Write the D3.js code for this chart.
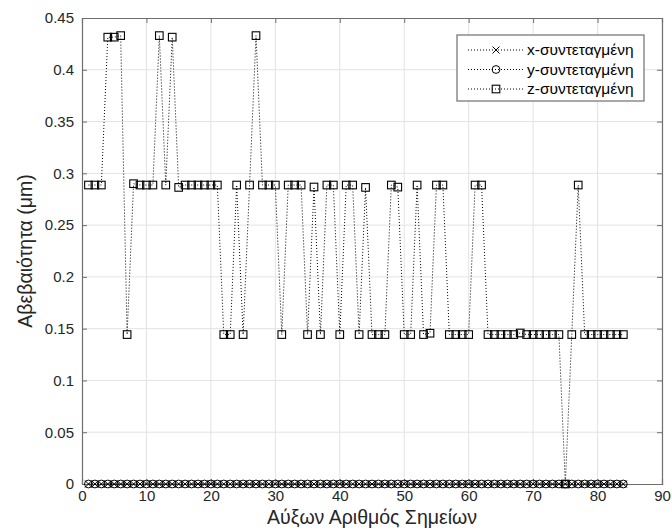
<!DOCTYPE html>
<html>
<head>
<meta charset="utf-8">
<script src="https://cdn.jsdelivr.net/npm/d3@7"></script>
<style>
    body { margin: 0; background: #fff; }
    text { font-family: "Liberation Sans", Arial, sans-serif; }
</style>
</head>
<body>
<div id="chart"></div>
<script>
// point numbers 1..84
let pointNo = [1, 2, 3, 4, 5, 6, 7, 8, 9, 10, 11, 12, 13, 14, 15, 16, 17, 18, 19, 20,
    21, 22, 23, 24, 25, 26, 27, 28, 29, 30, 31, 32, 33, 34, 35, 36, 37, 38, 39, 40,
    41, 42, 43, 44, 45, 46, 47, 48, 49, 50, 51, 52, 53, 54, 55, 56, 57, 58, 59, 60,
    61, 62, 63, 64, 65, 66, 67, 68, 69, 70, 71, 72, 73, 74, 75, 76, 77, 78, 79, 80,
    81, 82, 83, 84];

// uncertainty per coordinate (um)
let xUnc = [0, 0, 0, 0, 0, 0, 0, 0, 0, 0, 0, 0, 0, 0, 0, 0, 0, 0, 0, 0,
    0, 0, 0, 0, 0, 0, 0, 0, 0, 0, 0, 0, 0, 0, 0, 0, 0, 0, 0, 0,
    0, 0, 0, 0, 0, 0, 0, 0, 0, 0, 0, 0, 0, 0, 0, 0, 0, 0, 0, 0,
    0, 0, 0, 0, 0, 0, 0, 0, 0, 0, 0, 0, 0, 0, 0, 0, 0, 0, 0, 0,
    0, 0, 0, 0];
let yUnc = [0, 0, 0, 0, 0, 0, 0, 0, 0, 0, 0, 0, 0, 0, 0, 0, 0, 0, 0, 0,
    0, 0, 0, 0, 0, 0, 0, 0, 0, 0, 0, 0, 0, 0, 0, 0, 0, 0, 0, 0,
    0, 0, 0, 0, 0, 0, 0, 0, 0, 0, 0, 0, 0, 0, 0, 0, 0, 0, 0, 0,
    0, 0, 0, 0, 0, 0, 0, 0, 0, 0, 0, 0, 0, 0, 0, 0, 0, 0, 0, 0,
    0, 0, 0, 0];
let zUnc = [0.2887, 0.2887, 0.2887, 0.4315, 0.4315, 0.4330, 0.1443, 0.2900, 0.2887, 0.2887,
    0.2887, 0.4330, 0.2887, 0.4315, 0.2864, 0.2887, 0.2887, 0.2887, 0.2887, 0.2887,
    0.2887, 0.1443, 0.1443, 0.2887, 0.1443, 0.2887, 0.4330, 0.2887, 0.2887, 0.2887,
    0.1443, 0.2887, 0.2887, 0.2887, 0.1443, 0.2868, 0.1443, 0.2887, 0.2887, 0.1443,
    0.2887, 0.2887, 0.1443, 0.2864, 0.1443, 0.1443, 0.1443, 0.2887, 0.2867, 0.1443,
    0.1443, 0.2887, 0.1443, 0.1456, 0.2887, 0.2887, 0.1443, 0.1443, 0.1443, 0.1443,
    0.2887, 0.2887, 0.1443, 0.1443, 0.1443, 0.1443, 0.1443, 0.1458, 0.1443, 0.1443,
    0.1443, 0.1443, 0.1443, 0.1443, 0, 0.1443, 0.2887, 0.1443, 0.1443, 0.1443,
    0.1443, 0.1443, 0.1443, 0.1443];

let seriesNames = ["x-συντεταγμένη", "y-συντεταγμένη", "z-συντεταγμένη"];
let xTicks = [0, 10, 20, 30, 40, 50, 60, 70, 80, 90];
let yTicks = [0, 0.05, 0.1, 0.15, 0.2, 0.25, 0.3, 0.35, 0.4, 0.45];

let W = 672, H = 531;
let margin = { top: 18, right: 10, bottom: 47, left: 82 };
let width = W - margin.left - margin.right;
let height = H - margin.top - margin.bottom;

let svg = d3.select("#chart").append("svg")
    .attr("width", W)
    .attr("height", H);

let g = svg.append("g")
    .attr("transform", `translate(${margin.left}, ${margin.top})`);

let xscale = d3.scaleLinear().domain([0, 90]).range([0, width]);
let yscale = d3.scaleLinear().domain([0, 0.45]).range([height, 0]);

let axisCol = "#6e6e6e";

// grid
g.selectAll(".gx").data(xTicks.slice(1, -1)).join("line")
    .attr("x1", d => xscale(d)).attr("x2", d => xscale(d))
    .attr("y1", 0).attr("y2", height)
    .attr("stroke", "#e3e3e3").attr("stroke-width", 1);
g.selectAll(".gy").data(yTicks.slice(1, -1)).join("line")
    .attr("y1", d => yscale(d)).attr("y2", d => yscale(d))
    .attr("x1", 0).attr("x2", width)
    .attr("stroke", "#e3e3e3").attr("stroke-width", 1);

// axes (ticks inside, box on)
let xAxis = d3.axisBottom(xscale).tickValues(xTicks).tickSize(-5).tickPadding(6).tickFormat(d3.format("d"));
let yAxis = d3.axisLeft(yscale).tickValues(yTicks).tickSize(-5).tickPadding(8).tickFormat(d => d === 0 ? "0" : String(d));

let xg = g.append("g").attr("transform", `translate(0, ${height})`).call(xAxis);
let yg = g.append("g").call(yAxis);
let xt = g.append("g").call(d3.axisTop(xscale).tickValues(xTicks).tickSize(-5).tickFormat(""));
let yr = g.append("g").attr("transform", `translate(${width}, 0)`)
    .call(d3.axisRight(yscale).tickValues(yTicks).tickSize(-5).tickFormat(""));

[xg, yg, xt, yr].forEach(a => {
    a.select(".domain").attr("stroke", axisCol).attr("stroke-width", 1.2);
    a.selectAll(".tick line").attr("stroke", axisCol);
    a.selectAll(".tick text").attr("fill", "#262626").style("font-size", "15px");
});

// data lines + markers
let series = [
    { vals: xUnc, marker: "x" },
    { vals: yUnc, marker: "o" },
    { vals: zUnc, marker: "s" }
];

let line = d3.line()
    .x((d, i) => xscale(pointNo[i]))
    .y(d => yscale(d));

function drawMarker(sel, type, cx, cy) {
    if (type === "x") {
        sel.append("path")
            .attr("d", `M${cx - 3.5},${cy - 3.5}L${cx + 3.5},${cy + 3.5}M${cx - 3.5},${cy + 3.5}L${cx + 3.5},${cy - 3.5}`)
            .attr("stroke", "#000").attr("stroke-width", 1).attr("fill", "none");
    } else if (type === "o") {
        sel.append("circle")
            .attr("cx", cx).attr("cy", cy).attr("r", 3.9)
            .attr("stroke", "#000").attr("stroke-width", 1).attr("fill", "none");
    } else {
        sel.append("rect")
            .attr("x", cx - 3.8).attr("y", cy - 3.8)
            .attr("width", 7.6).attr("height", 7.6)
            .attr("stroke", "#000").attr("stroke-width", 1.1).attr("fill", "none");
    }
}

series.forEach(s => {
    g.append("path")
        .datum(s.vals)
        .attr("d", line)
        .attr("fill", "none")
        .attr("stroke", "#000")
        .attr("stroke-width", 1)
        .attr("stroke-dasharray", "1 2");
    let mg = g.append("g");
    s.vals.forEach((v, i) => drawMarker(mg, s.marker, xscale(pointNo[i]), yscale(v)));
});

// legend
let lg = svg.append("g").attr("transform", "translate(457, 35)");
lg.append("rect")
    .attr("width", 187).attr("height", 66)
    .attr("fill", "#fff").attr("stroke", axisCol).attr("stroke-width", 1.2);
seriesNames.forEach((name, i) => {
    let yy = 15 + i * 19.5;
    lg.append("line")
        .attr("x1", 11).attr("x2", 67).attr("y1", yy).attr("y2", yy)
        .attr("stroke", "#000").attr("stroke-dasharray", "1 2");
    drawMarker(lg, series[i].marker, 39, yy);
    lg.append("text")
        .attr("x", 70).attr("y", yy + 5)
        .style("font-size", "15.5px")
        .attr("fill", "#000")
        .text(name);
});

// axis labels
svg.append("text")
    .attr("x", margin.left + width / 2).attr("y", 524)
    .attr("text-anchor", "middle")
    .style("font-size", "19.5px").attr("fill", "#262626")
    .text("Αύξων Αριθμός Σημείων");
svg.append("text")
    .attr("transform", `translate(32, ${margin.top + height / 2}) rotate(-90)`)
    .attr("text-anchor", "middle")
    .style("font-size", "19.5px").attr("fill", "#262626")
    .text("Αβεβαιότητα (μm)");
</script>
</body>
</html>
